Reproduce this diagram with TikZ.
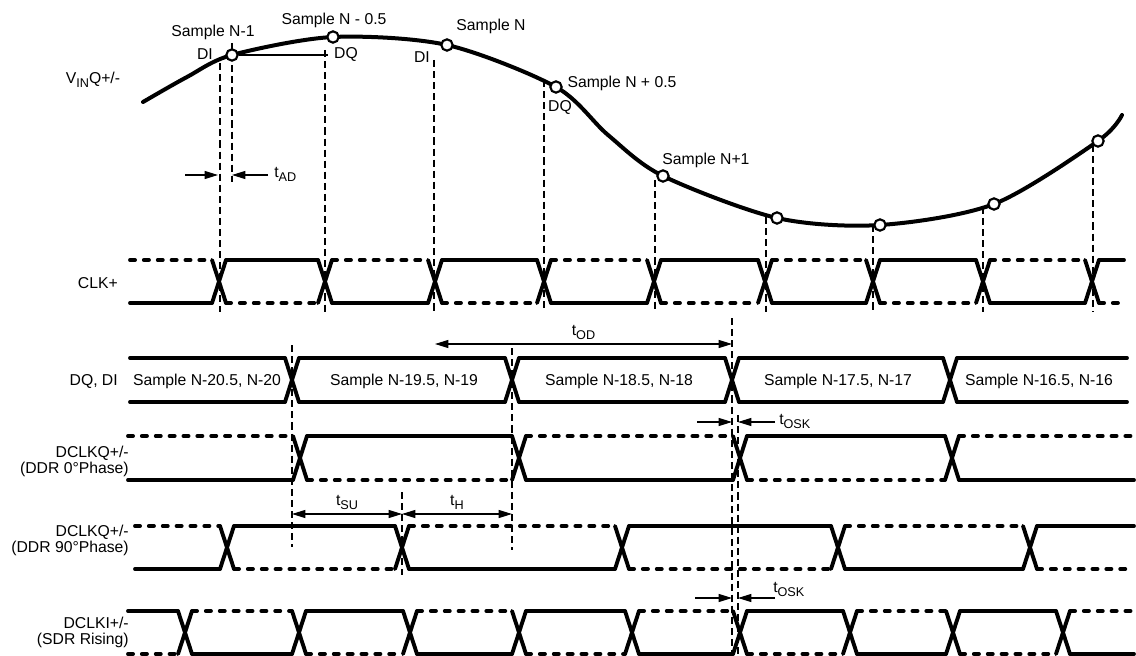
\documentclass[tikz,border=0pt]{standalone}
\usepackage{fontspec}
\setmainfont{Liberation Sans}
\usetikzlibrary{arrows.meta}

% subscript in text
\newcommand{\lowtxt}[1]{\raisebox{-3pt}{\fontsize{9.5}{10}\selectfont #1}}
% half width of an edge
\def\hw{7}
% one clock row: top y, bottom y, start x, crossings then end x, top solid first, number of crossings
\newcommand{\wavrow}[6]{%
  \foreach \cx [count=\i, remember=\cx as \px (initially #3)] in {#4} {
    \pgfmathsetmacro{\xa}{\px+(\i>1)*\hw}
    \pgfmathsetmacro{\xb}{\cx-(\i<(#6+1))*\hw}
    \pgfmathtruncatemacro{\tsol}{mod(#5+\i-1,2)}
    \ifnum\tsol=1
      \draw[sig] (\xa,#1) -- (\xb,#1);
      \draw[sig,sigdash] (\xa,#2) -- (\xb,#2);
    \else
      \draw[sig,sigdash] (\xa,#1) -- (\xb,#1);
      \draw[sig] (\xa,#2) -- (\xb,#2);
    \fi
    \ifnum\i>#6\else
      \draw[sig] (\cx-\hw,#1) -- (\cx+\hw,#2) (\cx-\hw,#2) -- (\cx+\hw,#1);
    \fi
  }
}

\tikzset{
  sig/.style={line width=2.9pt, line cap=round},
  sigdash/.style={dash pattern=on 3.8pt off 6.6pt},
  guide/.style={line width=0.85pt, dash pattern=on 5.3pt off 3pt},
  dim/.style={line width=0.85pt, -{Triangle[length=10pt,width=6pt]}},
  ddim/.style={line width=0.85pt, {Triangle[length=10pt,width=6pt]}-{Triangle[length=10pt,width=6pt]}},
  smp/.style={circle, draw, line width=1.6pt, fill=white, inner sep=0pt, minimum size=8.5pt},
  lbl/.style={font=\fontsize{11.8}{12}\selectfont, inner sep=0pt},
  rowlbl/.style={lbl, anchor=east, align=right},
}

\begin{document}
\begin{tikzpicture}[x=0.75pt, y=-0.75pt]
\useasboundingbox (0,0) rectangle (1136,656);

% sampling guides down to CLK+
\foreach \x/\y in {220/63, 325/50, 434/60, 544/80, 655/180, 766/217, 873/225, 983/207, 1093/145}
  \draw[guide] (\x,\y) -- (\x,312);
\draw[guide] (232,43) -- (232,182);
% output timing guides
\draw[guide] (292,345) -- (292,547);
\draw[guide] (512,348) -- (512,550);
\draw[guide] (402,492) -- (402,575);
\draw[guide] (732,318) -- (732,656);
\draw[guide] (738,415) -- (738,656);

% analog input
\draw[line width=3pt, line cap=round] plot[smooth] coordinates {(143,102) (187,77) (232,55) (333,37) (447,45) (556,87) (608,135) (663,176) (777,218) (880,225) (994,204) (1098,141) (1122,115)};
\foreach \x/\y [count=\k] in {232/55, 333/37, 447/45, 556/87, 663/176, 777/218, 880/225, 994/204, 1098/141}
  \node[smp] (s\k) at (\x,\y) {};
\coordinate (dqend) at (328,55);
\draw[line width=0.85pt] (s1) -- (dqend);

\node[lbl] (vin) at (93,80) {V\lowtxt{IN}Q+/-};
\node[lbl] (lsm1) at (213,32) {Sample N-1};
\node[lbl] (ldi1) at (205,54) {DI};
\node[lbl] (lsmh) at (334,20) {Sample N - 0.5};
\node[lbl] (ldq1) at (346,54) {DQ};
\node[lbl] (lsn) at (491,26) {Sample N};
\node[lbl] (ldi2) at (422,57) {DI};
\node[lbl] (lsnh) at (622,83) {Sample N + 0.5};
\node[lbl] (ldq2) at (560,107) {DQ};
\node[lbl] (lsn1) at (706,160) {Sample N+1};

% t_AD
\coordinate (ad1) at (185,175);
\coordinate (ad2) at (218,175);
\coordinate (ad3) at (268,175);
\coordinate (ad4) at (232,175);
\draw[dim] (ad1) -- (ad2);
\draw[dim] (ad3) -- (ad4);
\node[lbl, anchor=west] (tad) at (274,174) {t\lowtxt{AD}};

% CLK+
\node[rowlbl] (lclk) at (118,283) {CLK+};
\wavrow{260}{303}{130}{219,325,435,544,654,765,873,983,1092,1124}{0}{9}

% t_OD
\coordinate (odl) at (435,344);
\coordinate (odr) at (732,344);
\draw[ddim] (odl) -- node[lbl, above=3pt] (tod) {t\lowtxt{OD}} (odr);

% DQ, DI
\node[rowlbl] (ldq) at (118,381) {DQ, DI};
\foreach \xa/\xb in {130/285, 299/505, 519/725, 739/943, 957/1127}
  \draw[sig] (\xa,358) -- (\xb,358) (\xa,402) -- (\xb,402);
\foreach \cx in {292,512,732,950}
  \draw[sig] (\cx-\hw,358) -- (\cx+\hw,402) (\cx-\hw,402) -- (\cx+\hw,358);
\foreach \x/\t [count=\k] in {207/{Sample N-20.5, N-20}, 404/{Sample N-19.5, N-19}, 619/{Sample N-18.5, N-18}, 838/{Sample N-17.5, N-17}, 1039/{Sample N-16.5, N-16}}
  \node[lbl] (dq\k) at (\x,381) {\t};

% t_OSK (DDR)
\coordinate (os1a) at (697,422);
\coordinate (os1b) at (732,422);
\coordinate (os1c) at (775,422);
\coordinate (os1d) at (738,422);
\draw[dim] (os1a) -- (os1b);
\draw[dim] (os1c) -- (os1d);
\node[lbl, anchor=west] (tosk1) at (779,421) {t\lowtxt{OSK}};

% DCLKQ 0 deg
\node[rowlbl] (lq0) at (129,461) {DCLKQ+/-\\(DDR 0°Phase)};
\wavrow{436}{480}{128}{300,519,740,952,1134}{0}{4}

% t_SU, t_H
\coordinate (su1) at (292,514);
\coordinate (su2) at (402,514);
\coordinate (h2) at (512,514);
\draw[ddim] (su1) -- node[lbl, above=3pt] (tsu) {t\lowtxt{SU}} (su2);
\draw[ddim] (su2) -- node[lbl, above=3pt] (th) {t\lowtxt{H}} (h2);

% DCLKQ 90 deg
\node[rowlbl] (lq90) at (129,540) {DCLKQ+/-\\(DDR 90°Phase)};
\wavrow{526}{569}{135}{227,402,622,838,1030,1134}{0}{5}

% t_OSK (SDR)
\coordinate (os2a) at (695,598);
\coordinate (os2b) at (732,598);
\coordinate (os2c) at (775,598);
\coordinate (os2d) at (738,598);
\draw[dim] (os2a) -- (os2b);
\draw[dim] (os2c) -- (os2d);
\node[lbl, anchor=west] (tosk2) at (773,589) {t\lowtxt{OSK}};

% DCLKI
\node[rowlbl] (lki) at (129,632) {DCLKI+/-\\(SDR Rising)};
\wavrow{611}{654}{128}{185,299,410,519,632,740,850,953,1063,1134}{1}{9}
\end{tikzpicture}
\end{document}
